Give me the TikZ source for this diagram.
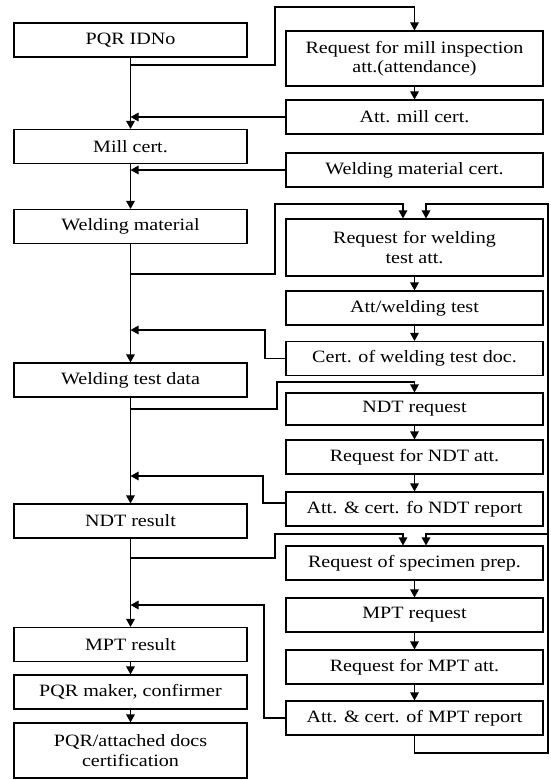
\documentclass[tikz,border=0pt]{standalone}
\usepackage{fontspec}
\setmainfont{Liberation Serif}[FakeStretch=1.16]
\usetikzlibrary{arrows.meta,shadows,calc}

\begin{document}
\begin{tikzpicture}[x=1pt,y=-1pt,
  box/.style={draw, line width=1.1pt, fill=white, minimum height=34pt,
    inner sep=0pt, align=center, font=\fontsize{17.3}{19.5}\selectfont,
    drop shadow={shadow xshift=0.9pt, shadow yshift=-0.9pt, opacity=1, fill=black}},
  lbox/.style={box, minimum width=233pt},
  rbox/.style={box, minimum width=257pt},
  link/.style={line width=1.3pt},
  flow/.style={link, -{Triangle[width=8.5pt,length=8pt]}},
]
\useasboundingbox (0,0) rectangle (551,780);

% main column
\node[lbox] (pqr)   at (130.5,40)    {PQR IDNo};
\node[lbox] (mill)  at (130.5,146.5) {Mill cert.};
\node[lbox] (wmat)  at (130.5,226.5) {Welding material};
\node[lbox] (wtd)   at (130.5,380)   {Welding test data};
\node[lbox] (ndtr)  at (130.5,521)   {NDT result};
\node[lbox] (mptr)  at (130.5,644.5) {MPT result};
\node[lbox] (maker) at (130.5,692)   {PQR maker, confirmer};
\node[lbox, minimum height=55pt] (final) at (130.5,750.5) {PQR/attached docs\\certification};

% attendance / certification column
\node[rbox, minimum height=55pt] (rmill) at (414.5,58.5) {Request for mill inspection\\att.(attendance)};
\node[rbox] (attmill)  at (414.5,117)   {Att. mill cert.};
\node[rbox] (wmcert)   at (414.5,170)   {Welding material cert.};
\node[rbox, minimum height=57pt] (rweld) at (414.5,247.5) {Request for welding\\test att.};
\node[rbox] (attweld)  at (414.5,308)   {Att/welding test};
\node[rbox] (certweld) at (414.5,358.5) {Cert. of welding test doc.};
\node[rbox, minimum height=32pt] (ndtreq) at (414.5,409) {NDT request};
\node[rbox] (rndt)     at (414.5,457)   {Request for NDT att.};
\node[rbox] (attndt)   at (414.5,509)   {Att. \& cert. fo NDT report};
\node[rbox] (spec)     at (414.5,563)   {Request of specimen prep.};
\node[rbox] (mptreq)   at (414.5,615)   {MPT request};
\node[rbox] (rmpt)     at (414.5,667)   {Request for MPT att.};
\node[rbox] (attmpt)   at (414.5,718)   {Att. \& cert. of MPT report};

% main trunk
\draw[flow] (pqr) -- (mill);
\draw[flow] (mill) -- (wmat);
\draw[flow] (wmat) -- (wtd);
\draw[flow] (wtd) -- (ndtr);
\draw[flow] (ndtr) -- (mptr);
\draw[flow] (mptr) -- (maker);
\draw[flow] (maker) -- (final);

% right column chains
\draw[flow] (rmill) -- (attmill);
\draw[flow] (rweld) -- (attweld);
\draw[flow] (attweld) -- (certweld);
\draw[flow] (ndtreq) -- (rndt);
\draw[flow] (rndt) -- (attndt);
\draw[flow] (spec) -- (mptreq);
\draw[flow] (mptreq) -- (rmpt);
\draw[flow] (rmpt) -- (attmpt);

% branches out of the trunk
\coordinate (b1) at (130.5,65);
\coordinate (t1) at (275,7);
\draw[flow] (b1) -| (t1) -| (rmill.north);

\coordinate (b2) at (130.5,274);
\coordinate (t2) at (275,204);
\draw[flow] (b2) -| (t2) -| ([xshift=-11.5pt]rweld.north);

\coordinate (b3) at (130.5,409);
\coordinate (t3) at (277,382);
\draw[flow] (b3) -| (t3) -| (ndtreq.north);

\coordinate (b4) at (130.5,558);
\coordinate (t4) at (275,534);
\draw[flow] (b4) -| (t4) -| ([xshift=-11.5pt]spec.north);

% returns into the trunk
\draw[flow] (attmill.west) -- (attmill.west -| pqr.south);
\draw[flow] (wmcert.west) -- (wmcert.west -| mill.south);

\coordinate (c1) at (265,330);
\draw[flow] (certweld.west) -| (c1) -- (c1 -| wmat.south);

\coordinate (c2) at (263,476);
\draw[flow] ([yshift=6pt]attndt.west) -| (c2) -- (c2 -| wtd.south);

\coordinate (c3) at (264,605);
\draw[flow] (attmpt.west) -| (c3) -- (c3 -| ndtr.south);

% feedback loop from the MPT report
\coordinate (fb) at (414.5,753);
\coordinate (ft) at (548,204);
\coordinate (fm) at (548,534);
\draw[flow] (attmpt.south) -- (fb) -| (ft) -| ([xshift=11.5pt]rweld.north);
\draw[flow] (fm) -| ([xshift=11.5pt]spec.north);
\end{tikzpicture}
\end{document}
